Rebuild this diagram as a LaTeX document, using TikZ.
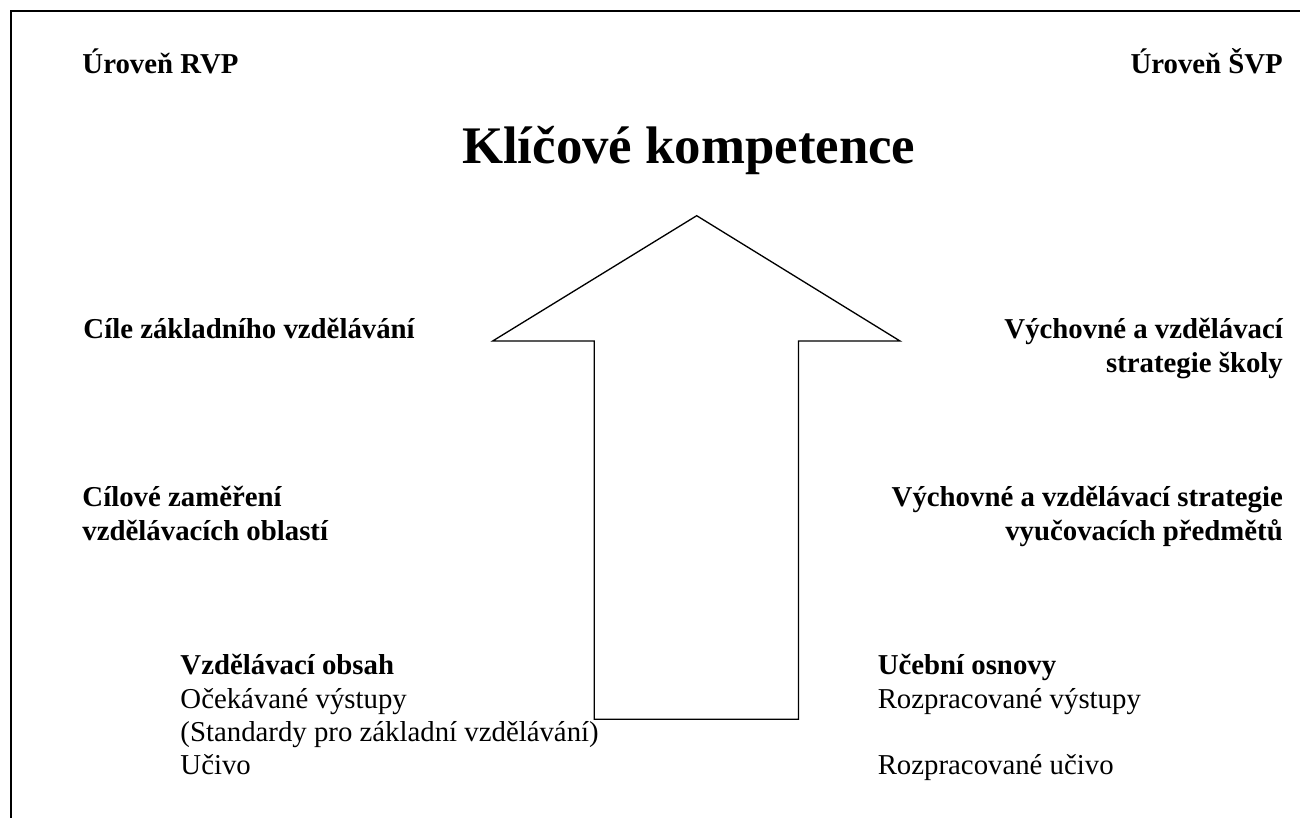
\documentclass[tikz,border=0pt]{standalone}
\usepackage{fontspec}
\setmainfont{Liberation Serif}
\begin{document}
\begin{tikzpicture}[x=0.416667pt,y=-0.416667pt,
  txt/.style={inner sep=0pt,font=\fontsize{12pt}{13.8pt}\selectfont},
  btxt/.style={txt,font=\fontsize{12pt}{13.8pt}\selectfont\bfseries},
  ttl/.style={inner sep=0pt,font=\fontsize{22pt}{26pt}\selectfont\bfseries},
  ln/.style={line width=0.55pt,black}]
\useasboundingbox (0,0) rectangle (1300,818);
% frame
\coordinate (tl) at (11,11);
\coordinate (tr) at (1300,11);
\coordinate (bl) at (11,818);
\draw[ln] (tr) -- (tl) -- (bl);
% arrow
\coordinate (apex) at (696.7,215.7);
\coordinate (hr) at (900,341);
\coordinate (sr) at (798.5,341);
\coordinate (br) at (798.5,719.3);
\coordinate (bll) at (594.2,719.3);
\coordinate (sl) at (594.2,341);
\coordinate (hl) at (492.7,341);
\draw[ln,line join=miter] (apex) -- (hr) -- (sr) -- (br) -- (bll) -- (sl) -- (hl) -- cycle;
% headings
\node[btxt,anchor=base west] (rvp) at (82,74) {Úroveň RVP};
\node[btxt,anchor=base east] (svp) at (1283.3,74) {Úroveň ŠVP};
\node[ttl,anchor=base west] (kk) at (461.7,163.5) {Klíčové kompetence};
% left side
\node[btxt,anchor=base west] (cile) at (83,339) {Cíle základního vzdělávání};
\node[btxt,anchor=base west] (cz1) at (82,507) {Cílové zaměření};
\node[btxt,anchor=base west] (cz2) at (82,540.3) {vzdělávacích oblastí};
\node[btxt,anchor=base west] (vo) at (180,675) {Vzdělávací obsah};
\node[txt,anchor=base west] (ov) at (180,708.3) {Očekávané výstupy};
\node[txt,anchor=base west] (st) at (180,741.7) {(Standardy pro základní vzdělávání)};
\node[txt,anchor=base west] (uc) at (180,775) {Učivo};
% right side
\node[btxt,anchor=base east] (vs1) at (1283.3,339) {Výchovné a vzdělávací};
\node[btxt,anchor=base east] (vs2) at (1283.3,372.3) {strategie školy};
\node[btxt,anchor=base east] (vp1) at (1283.3,507) {Výchovné a vzdělávací strategie};
\node[btxt,anchor=base east] (vp2) at (1283.3,540.3) {vyučovacích předmětů};
\node[btxt,anchor=base west] (uo) at (877.3,675) {Učební osnovy};
\node[txt,anchor=base west] (rv) at (877.3,708.3) {Rozpracované výstupy};
\node[txt,anchor=base west] (ru) at (877.3,775) {Rozpracované učivo};
\end{tikzpicture}
\end{document}
